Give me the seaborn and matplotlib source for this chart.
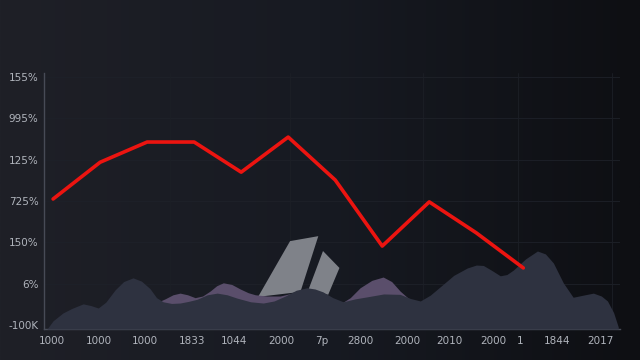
import numpy as np
import pandas as pd
import seaborn as sns
import matplotlib.pyplot as plt
from matplotlib.colors import LinearSegmentedColormap

# red line
line_x = [0, 1, 2, 3, 4, 5, 6, 7, 8, 9, 10]
line_y = [3.05, 3.94, 4.43, 4.43, 3.70, 4.55, 3.51, 1.91, 2.98, 2.23, 1.38]

# tick labels (as they appear in the picture)
x_labels = ["1000", "1000", "1000", "1833", "1044", "2000", "7p",
            "2800", "2000", "2010", "2000", "1", "1844", "2017"]
x_label_pos = [-0.02, 0.98, 1.96, 2.96, 3.85, 4.85, 5.72,
               6.53, 7.53, 8.43, 9.36, 9.94, 10.72, 11.64]
y_labels = ["-100K", "6%", "150%", "725%", "125%", "995%", "155%"]

# background wave (front)
wave_x = [-0.13, 0.00, 0.21, 0.40, 0.64, 0.80, 0.96, 1.12, 1.32, 1.50, 1.70,
          1.88, 2.06, 2.20, 2.34, 2.52, 2.70, 2.88, 3.06, 3.28, 3.49, 3.70,
          3.91, 4.20, 4.47, 4.70, 4.94, 5.17, 5.40, 5.57, 5.74, 5.95, 6.17,
          6.42, 6.68, 7.03, 7.38, 7.60, 7.81, 8.02, 8.23, 8.52, 8.81, 9.00,
          9.15, 9.33, 9.51, 9.65, 9.79, 10.05, 10.30, 10.47, 10.64, 10.85,
          11.06, 11.27, 11.49, 11.66, 11.79, 11.92, 12.02]
wave_y = [-0.10, 0.10, 0.29, 0.40, 0.51, 0.47, 0.41, 0.55, 0.85, 1.05, 1.14,
          1.06, 0.88, 0.66, 0.56, 0.52, 0.53, 0.57, 0.62, 0.73, 0.77, 0.73,
          0.65, 0.56, 0.53, 0.58, 0.70, 0.84, 0.90, 0.87, 0.80, 0.66, 0.56,
          0.63, 0.68, 0.75, 0.74, 0.64, 0.58, 0.72, 0.92, 1.20, 1.38, 1.45,
          1.44, 1.32, 1.19, 1.22, 1.33, 1.60, 1.79, 1.72, 1.50, 1.02,
          0.67, 0.72, 0.77, 0.70, 0.58, 0.30, -0.05]

# purple wave (behind)
purple_x = [2.06, 2.22, 2.38, 2.55, 2.70, 2.86, 3.02, 3.18, 3.34, 3.48, 3.62,
            3.80, 3.98, 4.15, 4.30, 4.55, 4.83, 5.05, 5.26, 5.47, 5.68, 5.90,
            6.11, 6.32, 6.53, 6.78, 7.02, 7.20, 7.38, 7.55, 7.70]
purple_y = [0.48, 0.55, 0.63, 0.73, 0.77, 0.73, 0.66, 0.70, 0.82, 0.95, 1.02,
            0.98, 0.87, 0.78, 0.73, 0.70, 0.70, 0.76, 0.80, 0.76, 0.70, 0.60,
            0.51, 0.66, 0.90, 1.08, 1.16, 1.05, 0.82, 0.65, 0.56]

# light gray shards
shard1_x = [4.36, 5.04, 5.64, 5.26]
shard1_y = [0.68, 2.03, 2.15, 0.80]
shard2_x = [5.43, 5.74, 6.09, 5.85]
shard2_y = [0.85, 1.79, 1.38, 0.73]

grid_x = [2.49, 5.04, 7.87, 9.89, 11.89]

sns.set_style("dark")
plt.rcParams['font.family'] = ['DejaVu Sans']

fig = plt.figure(figsize=(6.4, 3.6), dpi=100)

# gradient background
bg = fig.add_axes([0, 0, 1, 1], zorder=-5)
grad = np.linspace(0, 1, 256).reshape(1, -1)
cmap = LinearSegmentedColormap.from_list("bg", ["#1f2027", "#171a22", "#0e0f13"])
bg.imshow(grad, aspect="auto", cmap=cmap, extent=[0, 1, 0, 1])
bg.axis("off")

ax = fig.add_axes([0.069, 0.086, 0.9, 0.711])
ax.set_facecolor("none")

# faint grid
for yv in range(1, 7):
    ax.axhline(yv, color="#1e2129", lw=0.6, zorder=0)
for xv in grid_x:
    ax.axvline(xv, color="#1c1f26", lw=0.6, zorder=0)

ax.fill(shard1_x, shard1_y, color="#7f8289", lw=0, zorder=1)
ax.fill(shard2_x, shard2_y, color="#7f8289", lw=0, zorder=1)
ax.fill_between(purple_x, -0.1, purple_y, color="#5a4e6b", lw=0, zorder=2)
ax.fill_between(wave_x, -0.1, wave_y, color="#2e3240", lw=0, zorder=3)

df = pd.DataFrame({"x": line_x, "y": line_y})
sns.lineplot(data=df, x="x", y="y", ax=ax, color="#ec1410", lw=2.6, zorder=4)

ax.set_xlim(-0.19, 12.06)
ax.set_ylim(-0.1, 6.1)
ax.set_xticks(x_label_pos)
ax.set_xticklabels(x_labels)
ax.set_yticks(range(7))
ax.set_yticklabels(y_labels)
ax.set_xlabel("")
ax.set_ylabel("")
ax.tick_params(colors="#b0b4bc", labelsize=7.5, length=0)
ax.tick_params(axis="x", pad=5)
ax.tick_params(axis="y", pad=4)
ax.grid(False)

for side in ["top", "right"]:
    ax.spines[side].set_visible(False)
for side in ["left", "bottom"]:
    ax.spines[side].set_visible(True)
    ax.spines[side].set_color("#474b56")
    ax.spines[side].set_linewidth(1.0)

fig.savefig("out.png", dpi=100)
